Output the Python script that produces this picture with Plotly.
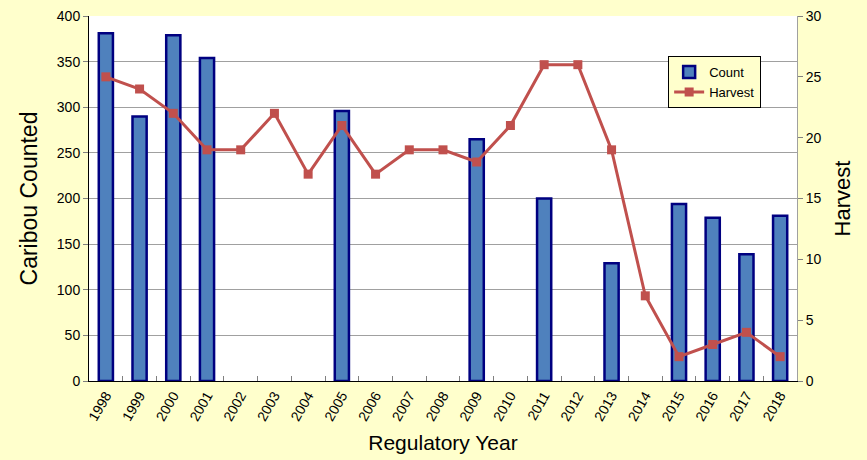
import plotly.graph_objects as go

years = [str(y) for y in range(1998, 2019)]
count = [381, 290, 379, 354, None, None, None, 296, None, None, None, 265,
         None, 200, None, 129, None, 194, 179, 139, 181]
harvest = [25, 24, 22, 19, 19, 22, 17, 21, 17, 19, 19, 18, 21, 26, 26, 19, 7, 2, 3, 4, 2]

fig = go.Figure()
fig.add_trace(go.Bar(
    x=years, y=count, name="Count",
    marker=dict(color="#4F81BD", line=dict(color="#000080", width=2.5)),
    yaxis="y",
))
fig.add_trace(go.Scatter(
    x=years, y=harvest, name="Harvest", mode="lines+markers",
    line=dict(color="#C0504D", width=3),
    marker=dict(symbol="square", size=9, color="#C0504D"),
    yaxis="y2",
))

fig.update_layout(
    width=867, height=460,
    paper_bgcolor="#FFFFCC", plot_bgcolor="#FFFFFF",
    margin=dict(l=89, r=70, t=16, b=79),
    font=dict(family="Liberation Sans, Arial", color="#000000", size=14),
    bargap=0.58,
    showlegend=True,
    legend=dict(
        x=0.818, y=0.89, xanchor="left", yanchor="top",
        bgcolor="#FFFFCC", bordercolor="#000000", borderwidth=1,
        font=dict(size=13), tracegroupgap=2, itemwidth=30,
    ),
    xaxis=dict(
        title=dict(text="Regulatory Year", font=dict(size=21), standoff=12),
        tickangle=-60, showline=True, linecolor="#000000", linewidth=1,
        ticks="inside", tickson="boundaries", ticklen=5, tickcolor="#808080",
        showgrid=False, tickfont=dict(size=14), automargin=False,
        range=[-0.5, 20.5],
    ),
    yaxis=dict(
        title=dict(text="Caribou Counted", font=dict(size=23), standoff=12),
        range=[0, 400], dtick=50, showline=True, linecolor="#000000", linewidth=1,
        ticks="outside", ticklen=5, tickcolor="#808080",
        showgrid=True, gridcolor="#A0A0A0", gridwidth=1, zeroline=False,
        automargin=False,
    ),
    yaxis2=dict(
        title=dict(text="Harvest", font=dict(size=22), standoff=14),
        range=[0, 30], dtick=5, overlaying="y", side="right",
        showline=True, linecolor="#A0A0A0", linewidth=1,
        ticks="outside", ticklen=5, tickcolor="#808080",
        showgrid=False, zeroline=False, automargin=False,
    ),
)

fig.write_html(
    "out.html",
    config={"displayModeBar": False},
    post_script="document.body.style.margin='0';document.body.style.background='#FFFFCC';",
)
